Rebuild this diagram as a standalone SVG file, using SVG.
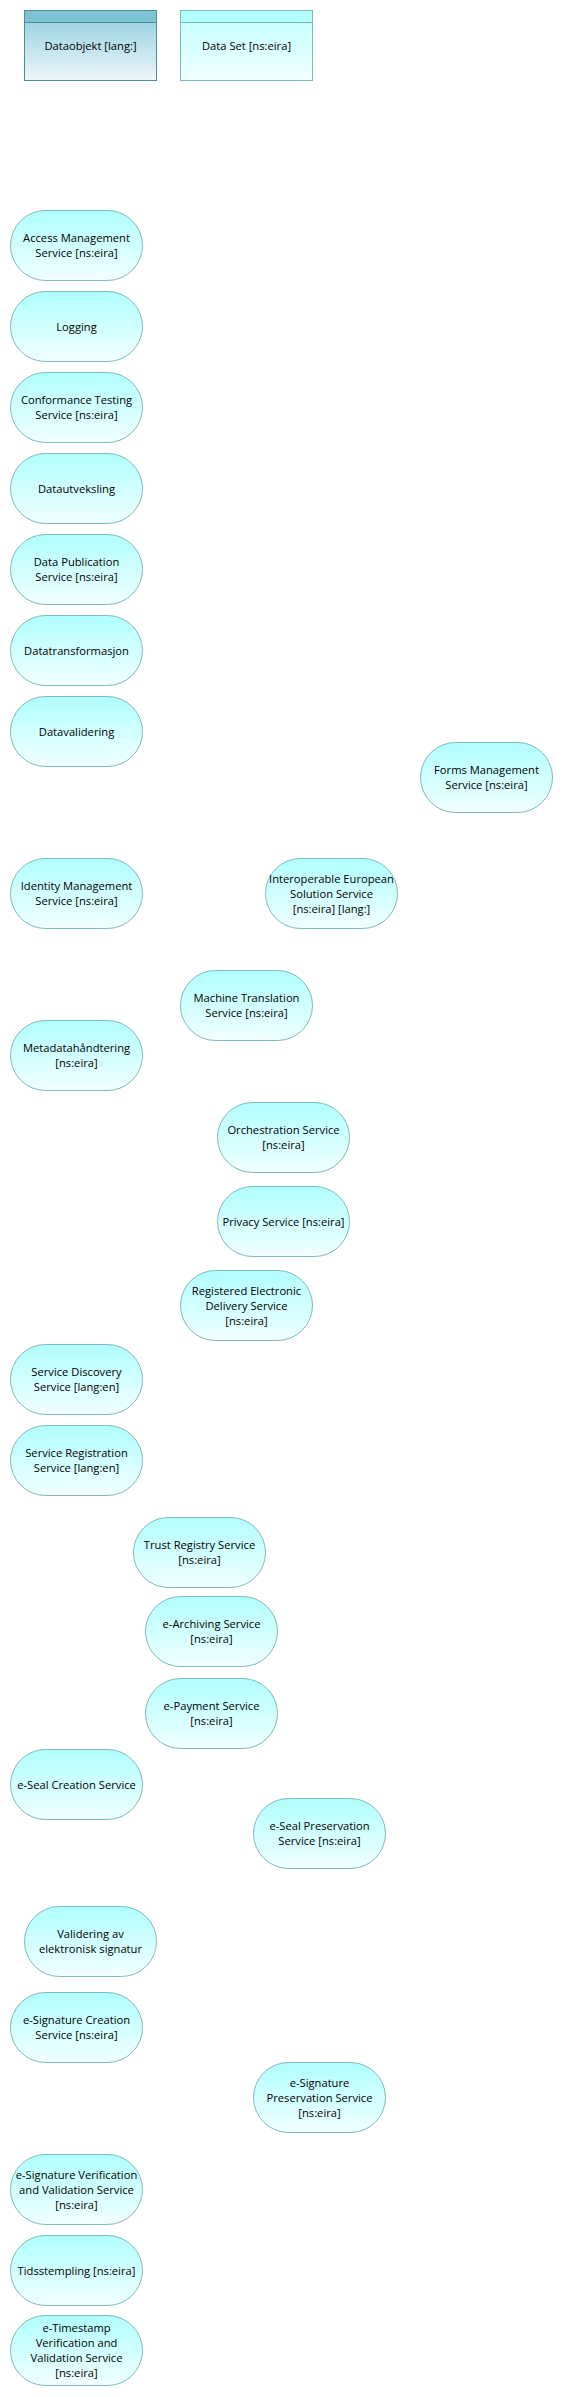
<svg xmlns="http://www.w3.org/2000/svg" width="563" height="2397" viewBox="0 0 563 2397">
<style>
.n rect.s{fill:url(#gS);stroke:#80b9b9;stroke-width:1}
.t{font-family:"Open Sans","Noto Sans","Liberation Sans",sans-serif;font-size:11.2px;fill:#000;text-anchor:middle}
</style>
<defs>
<linearGradient id="gS" x1="0" y1="0" x2="0" y2="1"><stop offset="0" stop-color="#b0ffff"/><stop offset="1" stop-color="#f2ffff"/></linearGradient>
<linearGradient id="gD" x1="0" y1="0" x2="0" y2="1"><stop offset="0" stop-color="#8ccddb"/><stop offset="1" stop-color="#eef7fa"/></linearGradient>
<linearGradient id="gE" x1="0" y1="0" x2="0" y2="1"><stop offset="0" stop-color="#bdffff"/><stop offset="1" stop-color="#f2ffff"/></linearGradient>
</defs>
<rect width="563" height="2397" fill="#fff"/>
<g id="dataobjekt">
<rect x="24.5" y="10.5" width="132" height="70" fill="url(#gD)" stroke="#4e8c99"/>
<rect x="24.5" y="10.5" width="132" height="12" fill="#7cc3d3" stroke="#4e8c99"/>
<text class="t" x="90.5" y="50">Dataobjekt [lang:]</text>
</g>
<g id="dataset">
<rect x="180.5" y="10.5" width="132" height="70" fill="url(#gE)" stroke="#80b9b9"/>
<rect x="180.5" y="10.5" width="132" height="12" fill="#b3ffff" stroke="#80b9b9"/>
<text class="t" x="246.5" y="50">Data Set [ns:eira]</text>
</g>
<g id="connectors"></g>
<g id="n1" class="n"><rect class="s" x="10.5" y="210.5" width="132" height="70" rx="35"/><text class="t" x="76.5" y="242">Access Management<tspan x="76.5" dy="15">Service [ns:eira]</tspan></text></g>
<g id="n2" class="n"><rect class="s" x="10.5" y="291.5" width="132" height="70" rx="35"/><text class="t" x="76.5" y="330.5">Logging</text></g>
<g id="n3" class="n"><rect class="s" x="10.5" y="372.5" width="132" height="70" rx="35"/><text class="t" x="76.5" y="404">Conformance Testing<tspan x="76.5" dy="15">Service [ns:eira]</tspan></text></g>
<g id="n4" class="n"><rect class="s" x="10.5" y="453.5" width="132" height="70" rx="35"/><text class="t" x="76.5" y="492.5">Datautveksling</text></g>
<g id="n5" class="n"><rect class="s" x="10.5" y="534.5" width="132" height="70" rx="35"/><text class="t" x="76.5" y="566">Data Publication<tspan x="76.5" dy="15">Service [ns:eira]</tspan></text></g>
<g id="n6" class="n"><rect class="s" x="10.5" y="615.5" width="132" height="70" rx="35"/><text class="t" x="76.5" y="654.5">Datatransformasjon</text></g>
<g id="n7" class="n"><rect class="s" x="10.5" y="696.5" width="132" height="70" rx="35"/><text class="t" x="76.5" y="735.5">Datavalidering</text></g>
<g id="n8" class="n"><rect class="s" x="420.5" y="742.5" width="132" height="70" rx="35"/><text class="t" x="486.5" y="774">Forms Management<tspan x="486.5" dy="15">Service [ns:eira]</tspan></text></g>
<g id="n9" class="n"><rect class="s" x="10.5" y="858.5" width="132" height="70" rx="35"/><text class="t" x="76.5" y="890">Identity Management<tspan x="76.5" dy="15">Service [ns:eira]</tspan></text></g>
<g id="n10" class="n"><rect class="s" x="265.5" y="858.5" width="132" height="70" rx="35"/><text class="t" x="331.5" y="882.5">Interoperable European<tspan x="331.5" dy="15">Solution Service</tspan><tspan x="331.5" dy="15">[ns:eira] [lang:]</tspan></text></g>
<g id="n11" class="n"><rect class="s" x="180.5" y="970.5" width="132" height="70" rx="35"/><text class="t" x="246.5" y="1002">Machine Translation<tspan x="246.5" dy="15">Service [ns:eira]</tspan></text></g>
<g id="n12" class="n"><rect class="s" x="10.5" y="1020.5" width="132" height="70" rx="35"/><text class="t" x="76.5" y="1052">Metadatahåndtering<tspan x="76.5" dy="15">[ns:eira]</tspan></text></g>
<g id="n13" class="n"><rect class="s" x="217.5" y="1102.5" width="132" height="70" rx="35"/><text class="t" x="283.5" y="1134">Orchestration Service<tspan x="283.5" dy="15">[ns:eira]</tspan></text></g>
<g id="n14" class="n"><rect class="s" x="217.5" y="1186.5" width="132" height="70" rx="35"/><text class="t" x="283.5" y="1225.5">Privacy Service [ns:eira]</text></g>
<g id="n15" class="n"><rect class="s" x="180.5" y="1270.5" width="132" height="70" rx="35"/><text class="t" x="246.5" y="1294.5">Registered Electronic<tspan x="246.5" dy="15">Delivery Service</tspan><tspan x="246.5" dy="15">[ns:eira]</tspan></text></g>
<g id="n16" class="n"><rect class="s" x="10.5" y="1344.5" width="132" height="70" rx="35"/><text class="t" x="76.5" y="1376">Service Discovery<tspan x="76.5" dy="15">Service [lang:en]</tspan></text></g>
<g id="n17" class="n"><rect class="s" x="10.5" y="1425.5" width="132" height="70" rx="35"/><text class="t" x="76.5" y="1457">Service Registration<tspan x="76.5" dy="15">Service [lang:en]</tspan></text></g>
<g id="n18" class="n"><rect class="s" x="133.5" y="1517.5" width="132" height="70" rx="35"/><text class="t" x="199.5" y="1549">Trust Registry Service<tspan x="199.5" dy="15">[ns:eira]</tspan></text></g>
<g id="n19" class="n"><rect class="s" x="145.5" y="1596.5" width="132" height="70" rx="35"/><text class="t" x="211.5" y="1628">e-Archiving Service<tspan x="211.5" dy="15">[ns:eira]</tspan></text></g>
<g id="n20" class="n"><rect class="s" x="145.5" y="1678.5" width="132" height="70" rx="35"/><text class="t" x="211.5" y="1710">e-Payment Service<tspan x="211.5" dy="15">[ns:eira]</tspan></text></g>
<g id="n21" class="n"><rect class="s" x="10.5" y="1749.5" width="132" height="70" rx="35"/><text class="t" x="76.5" y="1788.5">e-Seal Creation Service</text></g>
<g id="n22" class="n"><rect class="s" x="253.5" y="1798.5" width="132" height="70" rx="35"/><text class="t" x="319.5" y="1830">e-Seal Preservation<tspan x="319.5" dy="15">Service [ns:eira]</tspan></text></g>
<g id="n23" class="n"><rect class="s" x="24.5" y="1906.5" width="132" height="70" rx="35"/><text class="t" x="90.5" y="1938">Validering av<tspan x="90.5" dy="15">elektronisk signatur</tspan></text></g>
<g id="n24" class="n"><rect class="s" x="10.5" y="1992.5" width="132" height="70" rx="35"/><text class="t" x="76.5" y="2024">e-Signature Creation<tspan x="76.5" dy="15">Service [ns:eira]</tspan></text></g>
<g id="n25" class="n"><rect class="s" x="253.5" y="2062.5" width="132" height="70" rx="35"/><text class="t" x="319.5" y="2086.5">e-Signature<tspan x="319.5" dy="15">Preservation Service</tspan><tspan x="319.5" dy="15">[ns:eira]</tspan></text></g>
<g id="n26" class="n"><rect class="s" x="10.5" y="2154.5" width="132" height="70" rx="35"/><text class="t" x="76.5" y="2178.5">e-Signature Verification<tspan x="76.5" dy="15">and Validation Service</tspan><tspan x="76.5" dy="15">[ns:eira]</tspan></text></g>
<g id="n27" class="n"><rect class="s" x="10.5" y="2235.5" width="132" height="70" rx="35"/><text class="t" x="76.5" y="2274.5">Tidsstempling [ns:eira]</text></g>
<g id="n28" class="n"><rect class="s" x="10.5" y="2315.5" width="132" height="70" rx="35"/><text class="t" x="76.5" y="2332">e-Timestamp<tspan x="76.5" dy="15">Verification and</tspan><tspan x="76.5" dy="15">Validation Service</tspan><tspan x="76.5" dy="15">[ns:eira]</tspan></text></g>
</svg>
